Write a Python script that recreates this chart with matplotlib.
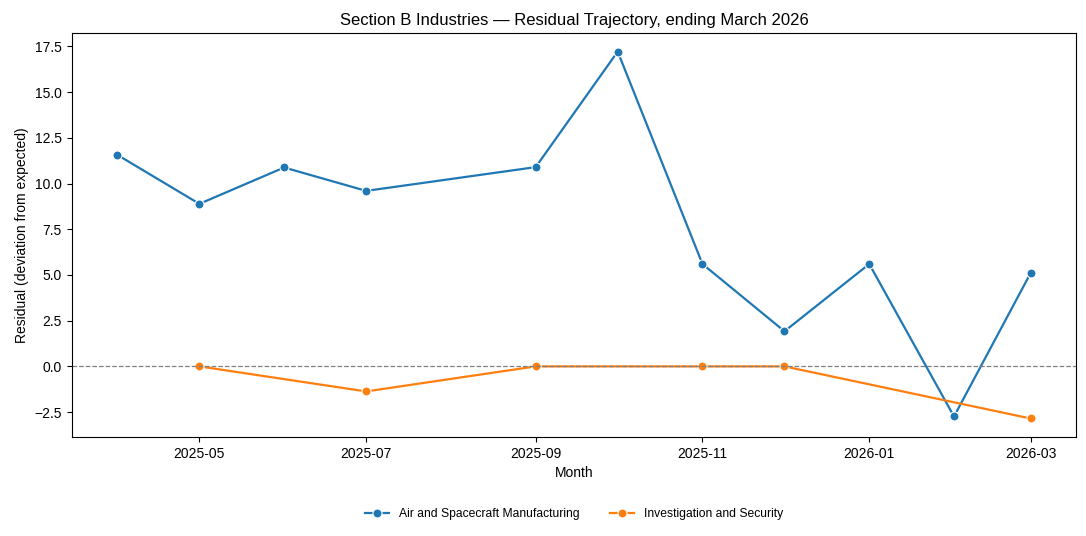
import matplotlib
matplotlib.use("Agg")
import matplotlib.pyplot as plt
import matplotlib.dates as mdates
import pandas as pd

plt.rcParams["font.family"] = ["Liberation Sans", "DejaVu Sans"]

# Air and Spacecraft Manufacturing residuals
air_months = ["2025-04", "2025-05", "2025-06", "2025-07", "2025-09", "2025-10",
              "2025-11", "2025-12", "2026-01", "2026-02", "2026-03"]
air_values = [11.57, 8.89, 10.88, 9.6, 10.9, 17.22, 5.6, 1.92, 5.6, -2.74, 5.1]

# Investigation and Security residuals
inv_months = ["2025-05", "2025-07", "2025-09", "2025-11", "2025-12", "2026-03"]
inv_values = [0.0, -1.37, 0.0, 0.0, 0.0, -2.85]

air_dates = pd.to_datetime(air_months)
inv_dates = pd.to_datetime(inv_months)

fig, ax = plt.subplots(figsize=(10.86, 5.36), dpi=100)

ax.plot(air_dates, air_values, color="#1f77b4", marker="o", markersize=6.5,
        markeredgecolor="white", markeredgewidth=0.8, linewidth=1.6,
        label="Air and Spacecraft Manufacturing")
ax.plot(inv_dates, inv_values, color="#ff7f0e", marker="o", markersize=6.5,
        markeredgecolor="white", markeredgewidth=0.8, linewidth=1.6,
        label="Investigation and Security")
ax.axhline(0, color="gray", linestyle="--", linewidth=0.9)

ax.xaxis.set_major_locator(mdates.MonthLocator(bymonth=[1, 3, 5, 7, 9, 11]))
ax.xaxis.set_major_formatter(mdates.DateFormatter("%Y-%m"))

ax.set_title("Section B Industries \u2014 Residual Trajectory, ending March 2026", fontsize=12)
ax.set_xlabel("Month", fontsize=10)
ax.set_ylabel("Residual (deviation from expected)", fontsize=10)
ax.tick_params(labelsize=10)

ax.legend(loc="upper center", bbox_to_anchor=(0.5, -0.15), ncol=2,
          frameon=False, fontsize=8.7, columnspacing=2.5)

plt.subplots_adjust(left=0.066, right=0.991, top=0.938, bottom=0.185)
plt.savefig("out.png")
